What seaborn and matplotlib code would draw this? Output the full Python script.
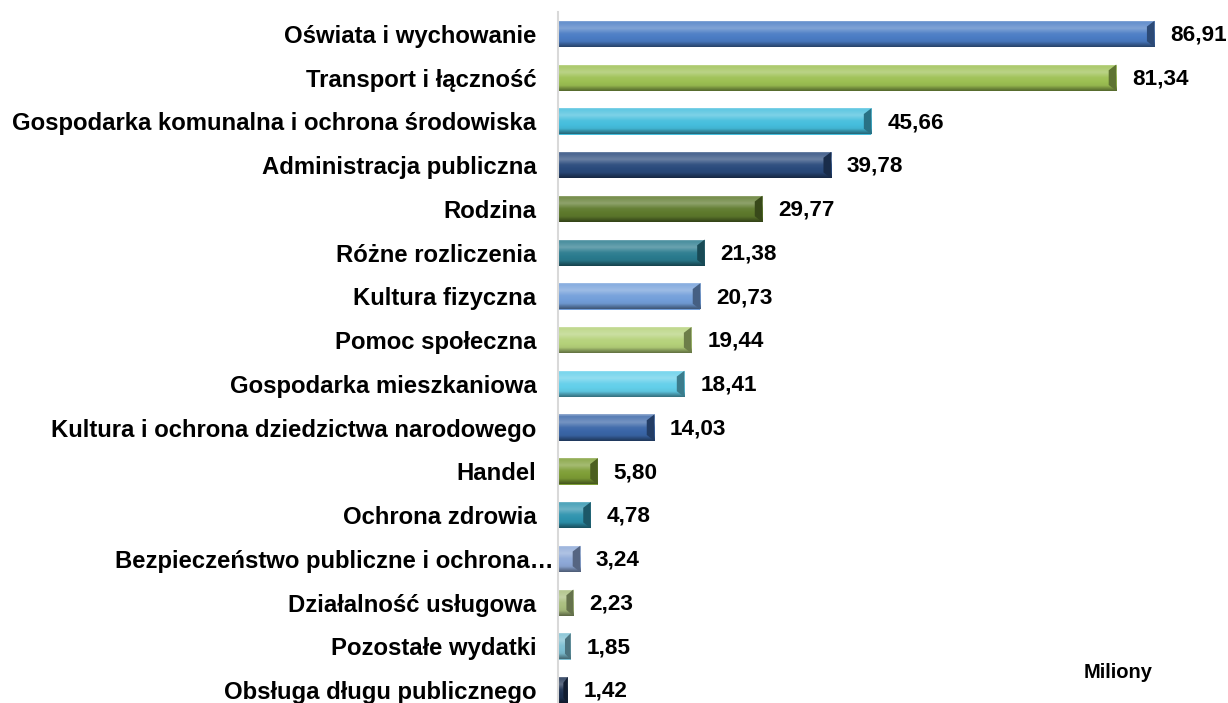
import seaborn as sns
import matplotlib.pyplot as plt
import matplotlib.colors as mcolors
import matplotlib.transforms as mtransforms
import numpy as np
import pandas as pd
from matplotlib.patches import Polygon

categories = [
    "Oświata i wychowanie",
    "Transport i łączność",
    "Gospodarka komunalna i ochrona środowiska",
    "Administracja publiczna",
    "Rodzina",
    "Różne rozliczenia",
    "Kultura fizyczna",
    "Pomoc społeczna",
    "Gospodarka mieszkaniowa",
    "Kultura i ochrona dziedzictwa narodowego",
    "Handel",
    "Ochrona zdrowia",
    "Bezpieczeństwo publiczne i ochrona…",
    "Działalność usługowa",
    "Pozostałe wydatki",
    "Obsługa długu publicznego",
]
values = [86.91, 81.34, 45.66, 39.78, 29.77, 21.38, 20.73, 19.44,
          18.41, 14.03, 5.80, 4.78, 3.24, 2.23, 1.85, 1.42]
bar_colors = ["#4A7CC4", "#9DC053", "#45BEDD", "#2A4A7C", "#5E7A2C", "#2A7B8E",
              "#739FDA", "#B5D27A", "#62CFEA", "#3A66A8", "#7E9E36", "#2E93AE",
              "#8EA9D8", "#A9BE7E", "#7DBFD2", "#1D3152"]
unit_label = "Miliony"

df = pd.DataFrame({"kategoria": categories, "wartosc": values})

sns.set_style("white")
plt.rcParams["font.family"] = ["Liberation Sans", "DejaVu Sans"]

fig = plt.figure(figsize=(12.28, 7.03), dpi=100)
ax = fig.add_axes([558 / 1228, -9 / 703, 652 / 1228, 700 / 703])

sns.barplot(data=df, x="wartosc", y="kategoria", hue="kategoria",
            palette=bar_colors, legend=False, width=0.6, ax=ax,
            linewidth=0, saturation=1)

ax.set_xlim(0, 95)
xlim = ax.get_xlim()
ylim = ax.get_ylim()


def shade(c, f):
    rgb = np.array(mcolors.to_rgb(c))
    if f >= 0:
        return rgb + (1 - rgb) * f
    return rgb * (1 + f)


# bevel look: vertical gradient clipped to each bar + darker right cap
t = np.linspace(0, 1, 40)
profile = np.interp(t, [0, 0.08, 0.3, 0.5, 0.8, 0.92, 1.0],
                    [0.45, 0.15, 0.3, 0.05, -0.05, -0.3, -0.45])
for patch, col in zip(ax.patches, bar_colors):
    x0, y0 = patch.get_x(), patch.get_y()
    w, h = patch.get_width(), patch.get_height()
    grad = np.array([shade(col, f) for f in profile])[:, None, :]
    im = ax.imshow(grad, extent=(x0, x0 + w, y0 + h, y0), origin="upper",
                   aspect="auto", zorder=patch.get_zorder() + 0.1)
    im.set_clip_path(patch)
    d = min(1.1, w * 0.45)
    bev = h * 0.22
    cap = Polygon([(x0 + w, y0), (x0 + w, y0 + h), (x0 + w - d, y0 + h - bev),
                   (x0 + w - d, y0 + bev)], closed=True,
                  facecolor=shade(col, -0.4), edgecolor="none",
                  zorder=patch.get_zorder() + 0.2)
    ax.add_patch(cap)
    ax.text(x0 + w + 2.3, y0 + h / 2 + 0.03, f"{w:.2f}".replace(".", ","),
            va="center", ha="left", fontsize=16.2, fontweight="bold",
            color="black", clip_on=False)

ax.set_xlim(xlim)
ax.set_ylim(ylim)

ax.set_xlabel("")
ax.set_ylabel("")
ax.set_xticks([])
ax.tick_params(axis="y", length=0, pad=15.5)
for lbl in ax.get_yticklabels():
    lbl.set_fontsize(17.2)
    lbl.set_fontweight("bold")
    lbl.set_color("black")
    if lbl.get_text().endswith("…"):
        # truncated label reaches up to the axis line
        lbl.set_transform(lbl.get_transform() +
                          mtransforms.ScaledTranslation(17 / 100, 0, fig.dpi_scale_trans))

for s in ["top", "right", "bottom"]:
    ax.spines[s].set_visible(False)
ax.spines["left"].set_color("#D9D9D9")
ax.spines["left"].set_linewidth(1.5)

fig.text(1118 / 1228, 1 - 672 / 703, unit_label, ha="center", va="center",
         fontsize=14.5, fontweight="bold", color="black")

fig.savefig("out.png", dpi=100)
